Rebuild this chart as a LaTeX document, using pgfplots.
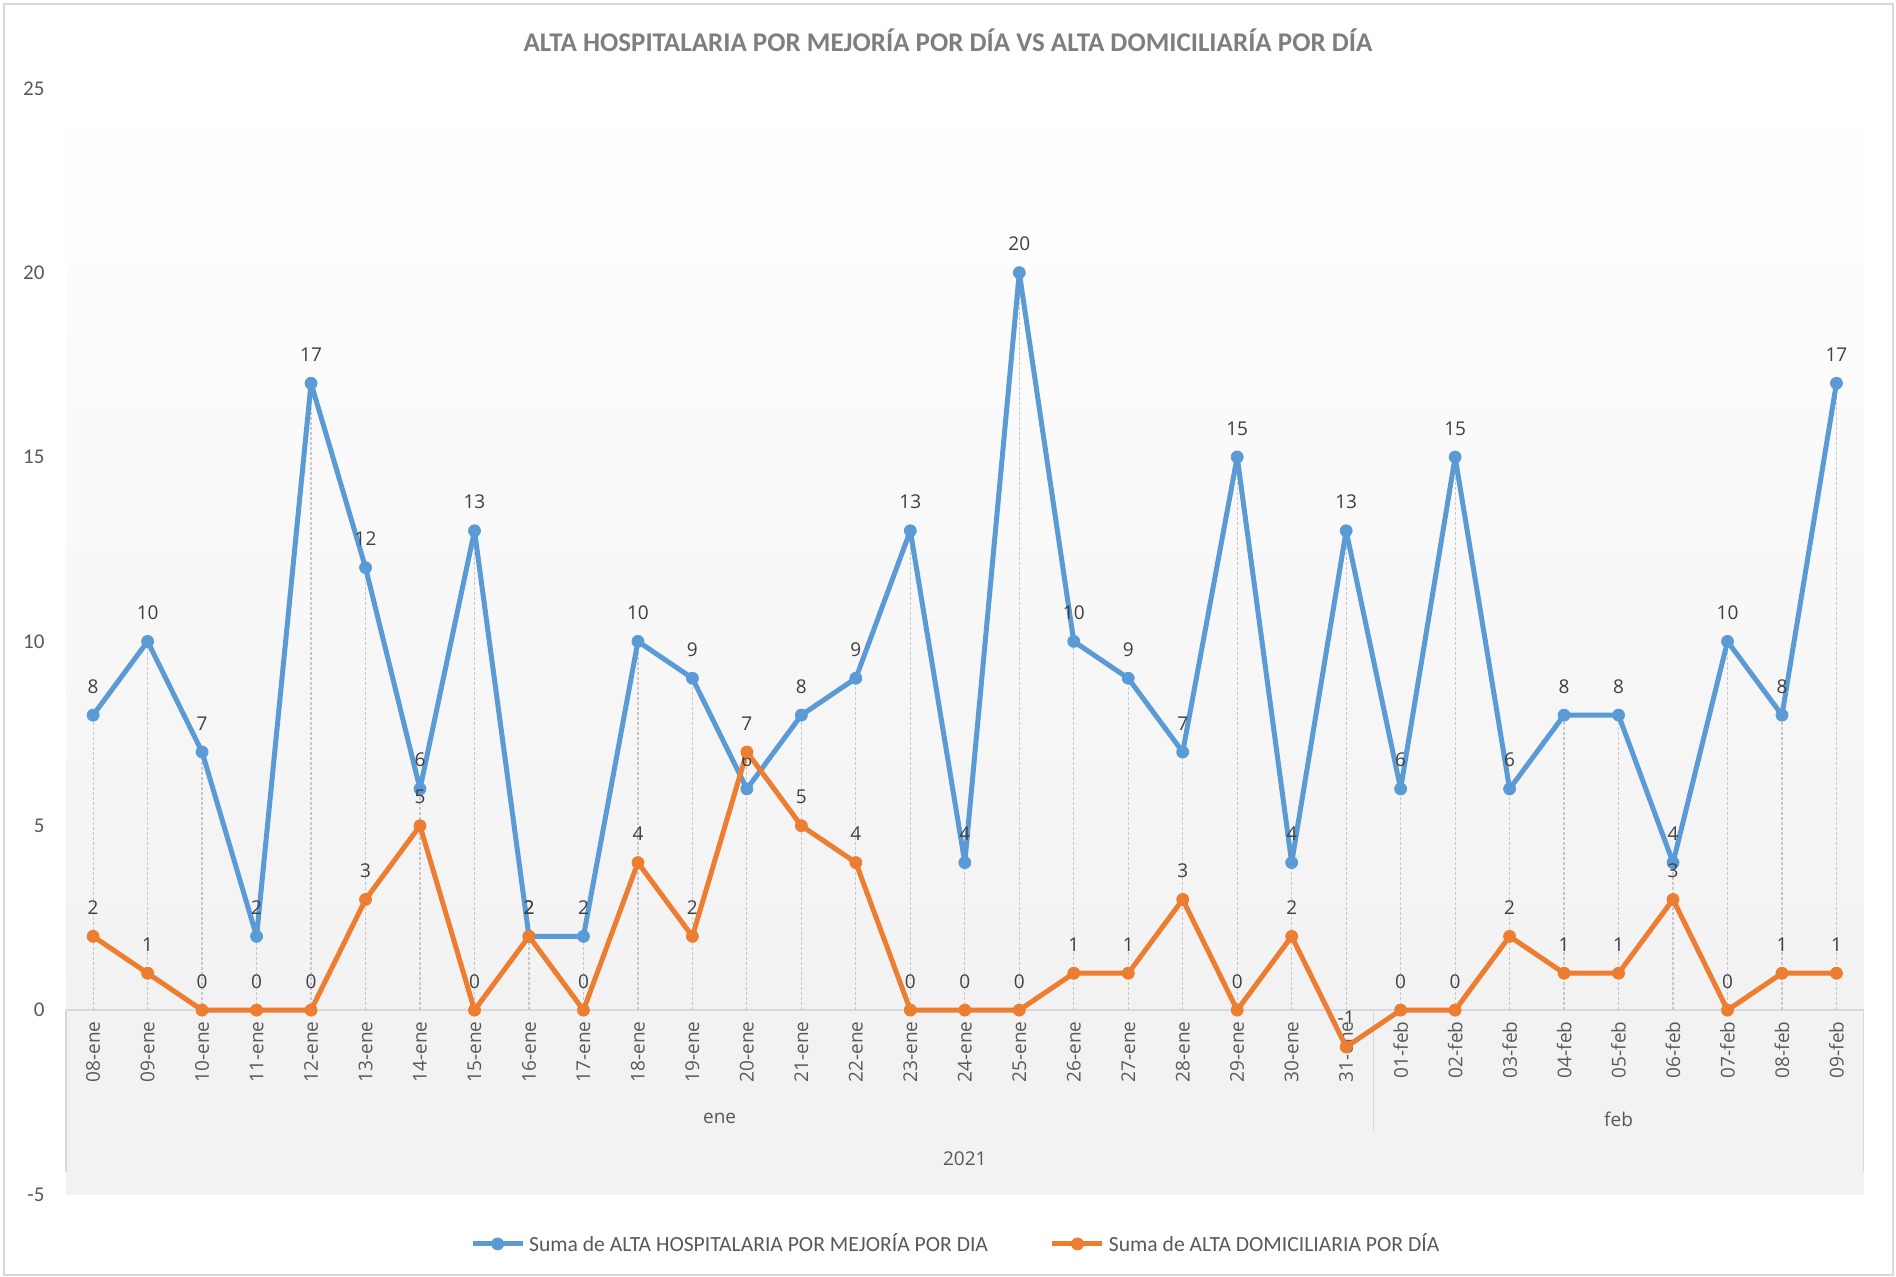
\documentclass[border=0pt]{standalone}
\usepackage{fontspec}
\setmainfont{Carlito}
\newfontfamily\osans{Open Sans}
\usepackage{pgfplots}
\pgfplotsset{compat=1.18}
\definecolor{cblue}{HTML}{5B9BD5}
\definecolor{corange}{HTML}{ED7D31}
\definecolor{lbl}{HTML}{404040}
\definecolor{tickc}{HTML}{595959}
\definecolor{band}{HTML}{F2F2F2}
\definecolor{lgrey}{HTML}{D9D9D9}
\definecolor{ttl}{HTML}{7F7F7F}
\pgfdeclareverticalshading{plotbg}{100bp}{color(0bp)=(band); color(33.33bp)=(band); color(75bp)=(white); color(100bp)=(white)}
\begin{document}
\begin{tikzpicture}
\fill[white] (-32.95pt,-41.25pt) rectangle (915.05pt,597.25pt);
\useasboundingbox (-32.95pt,-41.25pt) rectangle (915.05pt,597.25pt);
\draw[lgrey, line width=0.75pt] (-30.95pt,-40.25pt) rectangle (913.55pt,595.25pt);
\begin{axis}[
  at={(0,0)}, anchor=south west,
  scale only axis, width=898.9pt, height=553.1pt,
  xmin=-0.5, xmax=32.5, ymin=-5, ymax=25,
  axis x line*=middle, axis y line*=left,
  x axis line style={draw=lgrey, line width=0.75pt},
  y axis line style={draw=none},
  major tick length=0pt,
  xtick={0,...,32},
  xticklabels={08-ene,09-ene,10-ene,11-ene,12-ene,13-ene,14-ene,15-ene,16-ene,17-ene,18-ene,19-ene,20-ene,21-ene,22-ene,23-ene,24-ene,25-ene,26-ene,27-ene,28-ene,29-ene,30-ene,31-ene,01-feb,02-feb,03-feb,04-feb,05-feb,06-feb,07-feb,08-feb,09-feb},
  ytick={-5,0,5,10,15,20,25},
  yticklabels={-5,0,5,10,15,20,25},
  x tick label style={font=\osans\fontsize{9.5}{11}\selectfont, text=tickc, rotate=90, anchor=east, inner sep=0pt},
  xticklabel shift=5.5pt,
  y tick label style={font=\fontsize{10.5}{12}\selectfont, text=tickc, anchor=east, inner sep=0pt},
  yticklabel shift=10.5pt,
  axis background/.style={shade, shading=plotbg},
  clip=false,
  legend columns=2,
  legend style={draw=none, fill=none, at={(0.4955,-0.0447)}, anchor=center,
    font=\fontsize{10.8}{13}\selectfont, text=tickc,
    /tikz/every even column/.append style={column sep=29pt}},
  legend image code/.code={\draw[mark repeat=2,mark phase=2] plot coordinates {(0pt,0pt)(12.5pt,0pt)(25pt,0pt)};},
]
\addplot[ycomb, draw=black!22, line width=0.6pt, dash pattern=on 1.5pt off 1pt, mark=none, forget plot] coordinates {
(0,8)(1,10)(2,7)(3,2)(4,17)(5,12)(6,6)(7,13)(8,2)(9,2)(10,10)(11,9)(12,7)(13,8)(14,9)(15,13)(16,4)(17,20)(18,10)(19,9)(20,7)(21,15)(22,4)(23,13)(24,6)(25,15)(26,6)(27,8)(28,8)(29,4)(30,10)(31,8)(32,17)};
\draw[lgrey, line width=0.75pt] (axis cs:-0.5,0) -- (axis cs:-0.5,-4.4);
\draw[lgrey, line width=0.75pt] (axis cs:32.5,0) -- (axis cs:32.5,-4.4);
\draw[lgrey, line width=0.75pt] (axis cs:23.5,0) -- (axis cs:23.5,-3.26);
\addplot[color=cblue, line width=2.5pt, line join=round, mark=*, mark size=3pt, mark options={solid, fill=cblue, draw=cblue, line width=0.4pt},
  nodes near coords={\pgfmathprintnumber[assume math mode=true]{\pgfplotspointmeta}},
  every node near coord/.append style={font=\osans\fontsize{9.5}{11}\selectfont, text=lbl, anchor=base, inner sep=0pt, yshift=11pt}] coordinates {
(0,8)(1,10)(2,7)(3,2)(4,17)(5,12)(6,6)(7,13)(8,2)(9,2)(10,10)(11,9)(12,6)(13,8)(14,9)(15,13)(16,4)(17,20)(18,10)(19,9)(20,7)(21,15)(22,4)(23,13)(24,6)(25,15)(26,6)(27,8)(28,8)(29,4)(30,10)(31,8)(32,17)};
\addlegendentry{Suma de ALTA HOSPITALARIA POR MEJORÍA POR DIA}
\addplot[color=corange, line width=2.5pt, line join=round, mark=*, mark size=3pt, mark options={solid, fill=corange, draw=corange, line width=0.4pt},
  nodes near coords={\pgfmathprintnumber[assume math mode=true]{\pgfplotspointmeta}},
  every node near coord/.append style={font=\osans\fontsize{9.5}{11}\selectfont, text=lbl, anchor=base, inner sep=0pt, yshift=11pt}] coordinates {
(0,2)(1,1)(2,0)(3,0)(4,0)(5,3)(6,5)(7,0)(8,2)(9,0)(10,4)(11,2)(12,7)(13,5)(14,4)(15,0)(16,0)(17,0)(18,1)(19,1)(20,3)(21,0)(22,2)(23,-1)(24,0)(25,0)(26,2)(27,1)(28,1)(29,3)(30,0)(31,1)(32,1)};
\addlegendentry{Suma de ALTA DOMICILIARIA POR DÍA}
\node[font=\osans\fontsize{9.5}{11}\selectfont, text=tickc] at (axis cs:11.5,-2.95) {ene};
\node[font=\osans\fontsize{9.5}{11}\selectfont, text=tickc] at (axis cs:28,-2.95) {feb};
\node[font=\osans\fontsize{9.5}{11}\selectfont, text=tickc] at (axis cs:16,-4.03) {2021};
\end{axis}
\node[font=\bfseries\fontsize{13.5}{16}\selectfont, text=ttl] at (441.05pt,577.25pt) {ALTA HOSPITALARIA POR MEJORÍA POR DÍA VS ALTA DOMICILIARÍA POR DÍA};
\end{tikzpicture}
\end{document}
